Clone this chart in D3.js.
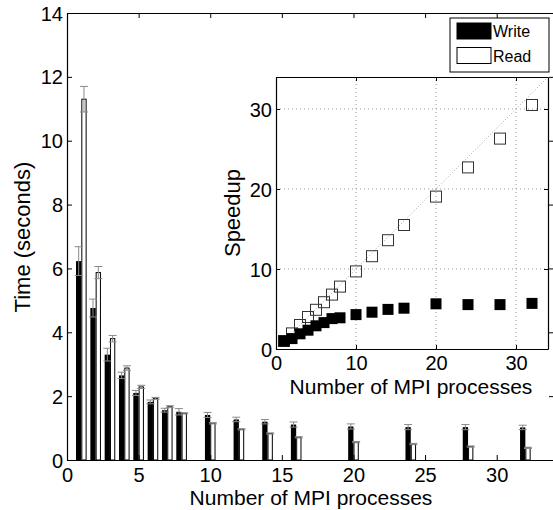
<!DOCTYPE html>
<html>
<head>
<meta charset="utf-8">
<script src="https://cdn.jsdelivr.net/npm/d3@7"></script>
<style>
  body { margin: 0; background: #fff; }
  svg { display: block; font-family: "Liberation Sans", Arial, sans-serif; }
</style>
</head>
<body>
<div id="chart"></div>
<script>
// data
var procs = [1, 2, 3, 4, 5, 6, 7, 8, 10, 12, 14, 16, 20, 24, 28, 32];
var writeTime = [6.23, 4.76, 3.3, 2.65, 2.1, 1.82, 1.56, 1.51, 1.41, 1.27, 1.2, 1.11, 1.05, 1.03, 1.03, 1.02];
var writeErr  = [0.45, 0.28, 0.2, 0.1, 0.08, 0.06, 0.06, 0.1, 0.08, 0.07, 0.07, 0.08, 0.08, 0.08, 0.08, 0.07];
var readTime  = [11.3, 5.87, 3.8, 2.88, 2.29, 1.93, 1.67, 1.46, 1.15, 0.96, 0.83, 0.71, 0.56, 0.5, 0.42, 0.38];
var readErr   = [0.4, 0.19, 0.1, 0.07, 0.05, 0.03, 0.03, 0.02, 0.02, 0.02, 0.02, 0.02, 0.02, 0.02, 0.02, 0.02];
var writeSpeedup = [1, 1.3, 1.9, 2.35, 2.9, 3.3, 3.8, 3.9, 4.3, 4.6, 4.95, 5.1, 5.65, 5.55, 5.55, 5.7];
var readSpeedup  = [1, 1.95, 3.0, 4.0, 4.9, 5.85, 6.8, 7.8, 9.7, 11.6, 13.6, 15.5, 19.05, 22.7, 26.3, 30.5];
var mainXTicks = [0, 5, 10, 15, 20, 25, 30];
var mainYTicks = [0, 2, 4, 6, 8, 10, 12, 14];
var insetTicks = [0, 10, 20, 30];
var legendLabels = ["Write", "Read"];

var width = 553, height = 510;
var svg = d3.select("#chart").append("svg")
            .attr("width", width)
            .attr("height", height);

// ---- main chart ----
var x = d3.scaleLinear().domain([0, 34]).range([67, 554]);
var y = d3.scaleLinear().domain([0, 14]).range([460, 13]);
var barW = 0.37; // in x units
var errColor = "#8a8a8a";

// bars
var g = svg.append("g");
g.selectAll("rect.write")
  .data(procs)
  .enter().append("rect")
  .attr("class", "write")
  .attr("x", function(d) { return x(d - barW); })
  .attr("y", function(d, i) { return y(writeTime[i]); })
  .attr("width", x(barW) - x(0))
  .attr("height", function(d, i) { return y(0) - y(writeTime[i]); })
  .attr("fill", "black");

g.selectAll("rect.read")
  .data(procs)
  .enter().append("rect")
  .attr("class", "read")
  .attr("x", function(d) { return x(d) + 0.5; })
  .attr("y", function(d, i) { return y(readTime[i]); })
  .attr("width", x(barW) - x(0) - 1)
  .attr("height", function(d, i) { return y(0) - y(readTime[i]); })
  .attr("fill", "white")
  .attr("stroke", "black")
  .attr("stroke-width", 1);

// error bars
function errorBars(vals, errs, offset) {
  var eg = svg.append("g").attr("stroke", errColor).attr("stroke-width", 1).attr("fill", "none");
  procs.forEach(function(p, i) {
    var cx = x(p + offset);
    var lo = y(vals[i] - errs[i]), hi = y(vals[i] + errs[i]);
    eg.append("line").attr("x1", cx).attr("x2", cx).attr("y1", lo).attr("y2", hi);
    eg.append("line").attr("x1", cx - 4).attr("x2", cx + 4).attr("y1", lo).attr("y2", lo);
    eg.append("line").attr("x1", cx - 4).attr("x2", cx + 4).attr("y1", hi).attr("y2", hi);
  });
}
errorBars(writeTime, writeErr, -barW / 2);
errorBars(readTime, readErr, barW / 2);

// axes
var xAxis = svg.append("g").attr("transform", "translate(0,460)")
  .call(d3.axisBottom(x).tickValues(mainXTicks).tickSize(-5).tickSizeOuter(0).tickPadding(7.5));
var xTop = svg.append("g").attr("transform", "translate(0,13)")
  .call(d3.axisTop(x).tickValues(mainXTicks).tickSize(-5).tickSizeOuter(0).tickFormat(""));
var yAxis = svg.append("g").attr("transform", "translate(67,0)")
  .call(d3.axisLeft(y).tickValues(mainYTicks).tickSize(-5).tickSizeOuter(0).tickPadding(4));
var yRight = svg.append("g").attr("transform", "translate(554,0)")
  .call(d3.axisRight(y).tickValues(mainYTicks).tickSize(-5).tickSizeOuter(0).tickFormat(""));

[xAxis, xTop, yAxis, yRight].forEach(function(a) {
  a.selectAll("path.domain").attr("stroke", "black").attr("stroke-width", 1.2);
  a.selectAll("text").attr("font-size", 20).attr("fill", "black")
   .attr("font-family", "Liberation Sans, Arial, sans-serif");
});
yAxis.selectAll("text").attr("dy", "0.35em");

svg.append("text")
  .attr("transform", "translate(22,237) rotate(-90)")
  .attr("text-anchor", "middle")
  .attr("dy", "0.35em")
  .attr("font-size", 22)
  .text("Time (seconds)");

svg.append("text")
  .attr("x", 311).attr("y", 505)
  .attr("text-anchor", "middle")
  .attr("font-size", 21)
  .text("Number of MPI processes");

// legend
var leg = svg.append("g");
leg.append("rect").attr("x", 450).attr("y", 18).attr("width", 99).attr("height", 54)
   .attr("fill", "white").attr("stroke", "black").attr("stroke-width", 1);
legendLabels.forEach(function(lab, i) {
  leg.append("rect").attr("x", 457).attr("y", 23 + i * 24.5).attr("width", 34).attr("height", 16)
     .attr("fill", i === 0 ? "black" : "white").attr("stroke", "black").attr("stroke-width", 1);
  leg.append("text").attr("x", 493).attr("y", 37 + i * 24.5)
     .attr("font-size", 16).text(lab);
});

// ---- inset speedup chart ----
var ix = d3.scaleLinear().domain([0, 34]).range([276, 548]);
var iy = d3.scaleLinear().domain([0, 34]).range([349, 77]);

svg.append("rect").attr("x", 276).attr("y", 77).attr("width", 272).attr("height", 272)
   .attr("fill", "white");

var grid = svg.append("g").attr("stroke", "#999").attr("stroke-width", 1)
  .attr("stroke-dasharray", "1,3");
insetTicks.slice(1).forEach(function(t) {
  grid.append("line").attr("x1", ix(t)).attr("x2", ix(t)).attr("y1", iy(0)).attr("y2", iy(34));
  grid.append("line").attr("x1", ix(0)).attr("x2", ix(34)).attr("y1", iy(t)).attr("y2", iy(t));
});
svg.append("line")
  .attr("x1", ix(0)).attr("y1", iy(0)).attr("x2", ix(34)).attr("y2", iy(34))
  .attr("stroke", "#aaa").attr("stroke-width", 1).attr("stroke-dasharray", "1,2");

var mk = 11;
svg.append("g").selectAll("rect")
  .data(procs)
  .enter().append("rect")
  .attr("x", function(d) { return ix(d) - mk / 2; })
  .attr("y", function(d, i) { return iy(readSpeedup[i]) - mk / 2; })
  .attr("width", mk).attr("height", mk)
  .attr("fill", "none").attr("stroke", "#333").attr("stroke-width", 1);
svg.append("g").selectAll("rect")
  .data(procs)
  .enter().append("rect")
  .attr("x", function(d) { return ix(d) - mk / 2; })
  .attr("y", function(d, i) { return iy(writeSpeedup[i]) - mk / 2; })
  .attr("width", mk).attr("height", mk)
  .attr("fill", "black");

var ixAxis = svg.append("g").attr("transform", "translate(0,349)")
  .call(d3.axisBottom(ix).tickValues(insetTicks).tickSize(-4).tickSizeOuter(0).tickPadding(7));
var ixTop = svg.append("g").attr("transform", "translate(0,77)")
  .call(d3.axisTop(ix).tickValues(insetTicks).tickSize(-4).tickSizeOuter(0).tickFormat(""));
var iyAxis = svg.append("g").attr("transform", "translate(276,0)")
  .call(d3.axisLeft(iy).tickValues(insetTicks).tickSize(-4).tickSizeOuter(0).tickPadding(4));
var iyRight = svg.append("g").attr("transform", "translate(548,0)")
  .call(d3.axisRight(iy).tickValues(insetTicks).tickSize(-4).tickSizeOuter(0).tickFormat(""));
[ixAxis, ixTop, iyAxis, iyRight].forEach(function(a) {
  a.selectAll("path.domain").attr("stroke", "black").attr("stroke-width", 1.2);
  a.selectAll("text").attr("font-size", 20).attr("fill", "black")
   .attr("font-family", "Liberation Sans, Arial, sans-serif");
});
iyAxis.selectAll("text").attr("dy", "0.35em");

svg.append("text")
  .attr("transform", "translate(232,213) rotate(-90)")
  .attr("text-anchor", "middle")
  .attr("dy", "0.35em")
  .attr("font-size", 22)
  .text("Speedup");

svg.append("text")
  .attr("x", 411).attr("y", 394)
  .attr("text-anchor", "middle")
  .attr("font-size", 21)
  .text("Number of MPI processes");
</script>
</body>
</html>
